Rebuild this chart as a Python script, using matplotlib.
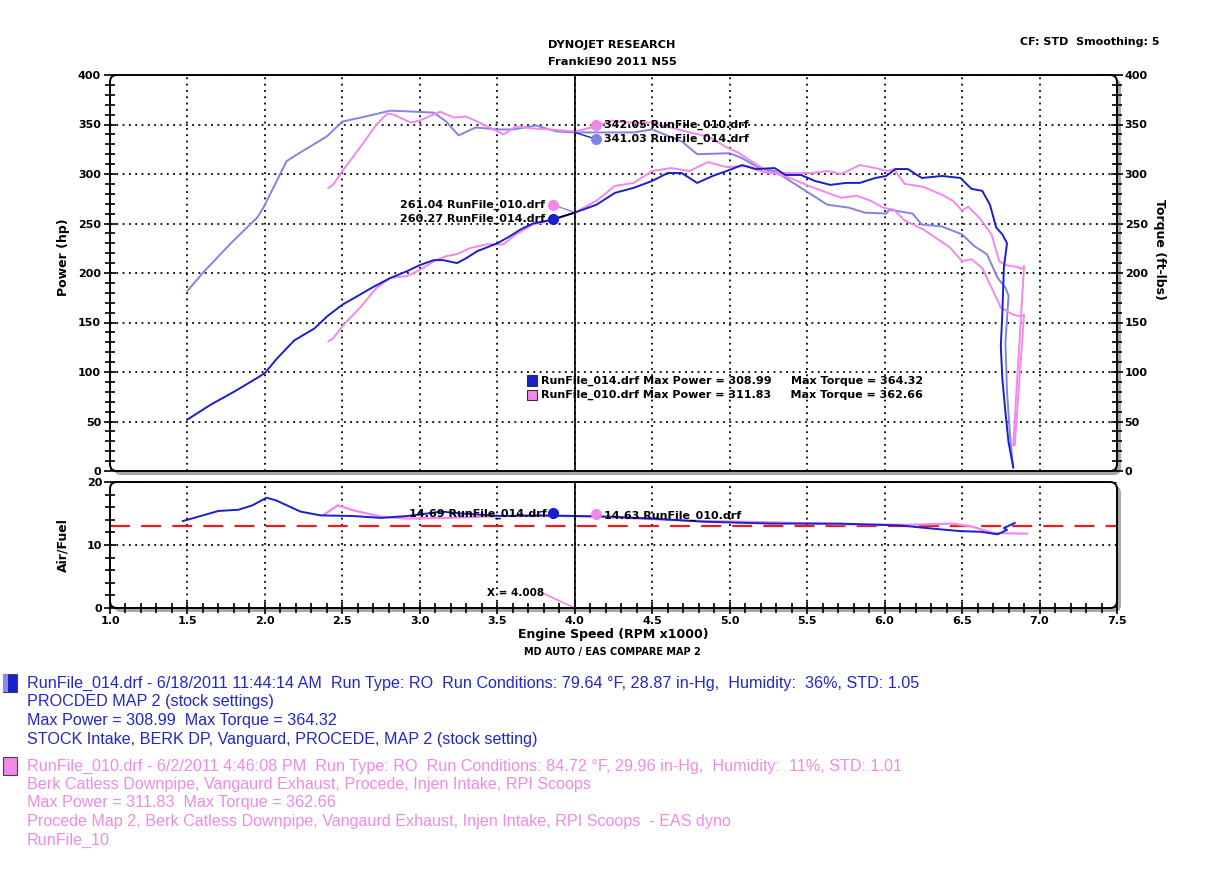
import matplotlib
matplotlib.use("Agg")
import matplotlib.pyplot as plt
from matplotlib.patches import FancyBboxPatch, Rectangle
from matplotlib.transforms import IdentityTransform
from matplotlib.ticker import MultipleLocator, FormatStrFormatter

# ---------------- data ----------------
rpm_hp014 = [1.50,1.65,1.80,1.95,2.00,2.08,2.19,2.32,2.40,2.50,2.59,2.70,2.81,2.92,3.00,3.09,3.15,3.24,3.30,3.37,
             3.50,3.58,3.65,3.73,3.86,4.00,4.14,4.26,4.38,4.50,4.60,4.69,4.79,4.89,4.98,5.08,5.17,5.29,5.36,5.46,
             5.55,5.65,5.75,5.84,5.94,6.01,6.07,6.15,6.24,6.37,6.49,6.56,6.63,6.68,6.72,6.76,6.79,6.77,6.76,6.75,
             6.76,6.78,6.80,6.83]
hp014 = [52,67,80,94,99,114,132,144,156,168,176,186,195,202,208,213,213,210,215,222,
         230,237,244,250,254,261,269,281,286,293,301,301,291,298,303,309,305,306,299,299,
         293,289,291,291,296,298,305,305,296,298,296,285,283,269,246,239,230,206,160,126,
         93,59,29,4]

rpm_tq014 = [1.50,1.61,1.78,1.95,1.99,2.14,2.21,2.40,2.50,2.62,2.81,2.96,3.09,3.17,3.25,3.36,3.50,3.60,3.75,3.88,
             4.00,4.14,4.38,4.50,4.69,4.79,5.00,5.08,5.20,5.29,5.41,5.51,5.63,5.77,5.87,6.01,6.03,6.18,6.24,6.37,
             6.50,6.58,6.66,6.73,6.78,6.80,6.78,6.79,6.81,6.83]
tq014 = [182,202,230,256,266,313,320,338,353,357,364,363,362,353,339,347,345,345,349,343,
         342,342,342,345,333,320,321,316,305,303,291,281,269,266,261,260,264,260,249,247,
         239,227,219,195,185,177,130,80,35,3]

rpm_hp010 = [2.41,2.44,2.51,2.62,2.72,2.81,2.92,3.00,3.09,3.17,3.24,3.32,3.43,3.54,3.62,3.73,3.82,4.00,4.14,4.26,
             4.38,4.50,4.62,4.74,4.86,4.98,5.10,5.24,5.39,5.53,5.63,5.72,5.84,5.94,6.02,6.06,6.13,6.25,6.37,6.44,
             6.50,6.54,6.61,6.69,6.74,6.78,6.86,6.88,6.90,6.83]
hp010 = [131,134,148,166,185,195,197,203,212,217,219,225,229,229,239,249,252,261,273,288,
         291,303,306,303,312,307,308,301,301,301,303,300,309,306,303,305,290,287,279,273,
         263,267,256,239,212,208,206,204,207,26]

rpm_tq010 = [2.41,2.44,2.50,2.62,2.72,2.79,2.83,2.94,3.00,3.13,3.22,3.30,3.41,3.54,3.62,3.73,3.84,4.00,4.14,4.24,
             4.33,4.50,4.62,4.74,4.86,4.98,5.05,5.17,5.24,5.39,5.51,5.63,5.72,5.82,5.91,5.99,6.06,6.13,6.25,6.42,
             6.50,6.56,6.63,6.70,6.75,6.83,6.88,6.90,6.84]
tq010 = [286,289,303,328,350,361,360,352,354,363,357,358,350,340,348,346,345,343,348,354,
         352,352,347,342,338,327,322,310,303,296,288,281,276,278,273,266,264,253,244,226,
         212,214,205,182,165,158,156,158,26]

rpm_afr014 = [1.47,1.70,1.83,1.92,2.01,2.07,2.23,2.36,2.57,2.75,2.92,3.14,3.27,3.53,3.79,4.01,4.23,4.49,4.83,5.27,
              5.70,6.10,6.31,6.49,6.62,6.73,6.79,6.77,6.84]
afr014 = [13.8,15.4,15.6,16.3,17.5,17.1,15.3,14.7,14.6,14.3,14.6,15.3,15.0,14.6,14.7,14.6,14.5,14.2,13.7,13.4,
          13.4,13.1,12.6,12.2,12.1,11.7,12.4,12.7,13.5]

rpm_afr010 = [2.38,2.47,2.57,2.75,2.92,3.18,3.53,3.97,4.14,4.40,4.83,5.27,5.70,6.14,6.44,6.57,6.70,6.92]
afr010 = [14.8,16.3,15.5,14.5,14.2,14.3,14.6,14.6,14.5,14.2,13.8,13.6,13.3,13.2,13.4,12.9,11.9,11.8]

rpm_xcursor = [3.79, 4.00]
afr_xcursor = [2.4, 0.0]

afr_target = 13.0
cursor_rpm = 4.0

# cursor readouts (label, marker rpm, marker value)
hp_read = [("261.04 RunFile_010.drf", 3.86, 269, "pink"), ("260.27 RunFile_014.drf", 3.86, 254.5, "blue")]
tq_read = [("342.05 RunFile_010.drf", 4.14, 349.5, "pink"), ("341.03 RunFile_014.drf", 4.14, 335, "lblue")]
afr_read = [("14.69 RunFile_014.drf", 3.86, 15.1, "blue"), ("14.63 RunFile_010.drf", 4.14, 14.9, "pink")]

legend_lines = ["RunFile_014.drf Max Power = 308.99     Max Torque = 364.32",
                "RunFile_010.drf Max Power = 311.83     Max Torque = 362.66"]

blue_text = ["RunFile_014.drf - 6/18/2011 11:44:14 AM  Run Type: RO  Run Conditions: 79.64 \u00b0F, 28.87 in-Hg,  Humidity:  36%, STD: 1.05",
             "PROCDED MAP 2 (stock settings)",
             "Max Power = 308.99  Max Torque = 364.32",
             "STOCK Intake, BERK DP, Vanguard, PROCEDE, MAP 2 (stock setting)"]
pink_text = ["RunFile_010.drf - 6/2/2011 4:46:08 PM  Run Type: RO  Run Conditions: 84.72 \u00b0F, 29.96 in-Hg,  Humidity:  11%, STD: 1.01",
             "Berk Catless Downpipe, Vangaurd Exhaust, Procede, Injen Intake, RPI Scoops",
             "Max Power = 311.83  Max Torque = 362.66",
             "Procede Map 2, Berk Catless Downpipe, Vangaurd Exhaust, Injen Intake, RPI Scoops  - EAS dyno",
             "RunFile_10"]

# ---------------- styles ----------------
C = {"blue": "#1b1fc9", "lblue": "#8284e0", "pink": "#f288ea"}
TXT_BLUE = "#2226c8"
TXT_PINK = "#f08ae6"
W, H = 1224, 886

fig = plt.figure(figsize=(W / 100, H / 100), dpi=100)
fig.patch.set_facecolor("white")


def fpos(l, t, r, b):
    return [l / W, 1 - b / H, (r - l) / W, (b - t) / H]


def fx(x):
    return x / W


def fy(y):
    return 1 - y / H


ax1 = fig.add_axes(fpos(110, 75, 1117, 471))
ax2 = fig.add_axes(fpos(110, 482, 1117, 608))

for ax in (ax1, ax2):
    for s in ax.spines.values():
        s.set_visible(False)
    ax.set_xlim(1.0, 7.5)
    ax.xaxis.set_major_locator(MultipleLocator(0.5))
    ax.xaxis.set_minor_locator(MultipleLocator(0.1))
    ax.grid(True, which="major", color="black", linestyle=(0, (1, 2.5)), linewidth=1.3)
    ax.set_axisbelow(True)

# frames with shadow
for (l, t, r, b) in [(110, 75, 1117, 471), (110, 482, 1117, 608)]:
    sh = FancyBboxPatch((l + 4, H - b - 4), r - l, b - t, boxstyle="round,pad=0,rounding_size=7",
                        transform=IdentityTransform(), facecolor="#a8a8a8", edgecolor="none", zorder=-1)
    fig.add_artist(sh)
    fr = FancyBboxPatch((l, H - b), r - l, b - t, boxstyle="round,pad=0,rounding_size=7",
                        transform=IdentityTransform(), facecolor="none", edgecolor="black", linewidth=1.4, zorder=3)
    fig.add_artist(fr)

# ---- top panel ----
ax1.set_ylim(0, 400)
ax1.yaxis.set_major_locator(MultipleLocator(50))
ax1.yaxis.set_minor_locator(MultipleLocator(10))
ax1.tick_params(axis="x", which="both", bottom=False, labelbottom=False)
ax1.tick_params(axis="y", which="both", direction="inout", left=True, right=True, labelleft=True,
                width=1.2, color="black")
ax1.tick_params(axis="y", which="major", length=9, labelsize=8, pad=2)
ax1.tick_params(axis="y", which="minor", length=7)
for lab in ax1.get_yticklabels():
    lab.set_fontweight("bold")

ax1t = ax1.twinx()
for s in ax1t.spines.values():
    s.set_visible(False)
ax1t.set_ylim(0, 400)
ax1t.yaxis.set_major_locator(MultipleLocator(50))
ax1t.yaxis.set_minor_locator(MultipleLocator(10))
ax1t.tick_params(axis="y", which="both", direction="inout", width=1.2, right=True)
ax1t.tick_params(axis="y", which="major", length=9, labelsize=8, pad=1)
ax1t.tick_params(axis="y", which="minor", length=7)
for lab in ax1t.get_yticklabels():
    lab.set_fontweight("bold")
ax1t.set_ylabel("Torque (ft-lbs)", rotation=270, fontsize=9, fontweight="bold", va="center")
ax1t.yaxis.set_label_coords(1.042, 0.56)

ax1.set_ylabel("Power (hp)", fontsize=9, fontweight="bold")
ax1.yaxis.set_label_coords(-0.040, 0.54)

ax1.plot(rpm_tq014, tq014, color=C["lblue"], lw=1.4, zorder=4)
ax1.plot(rpm_tq010, tq010, color=C["pink"], lw=1.4, zorder=4)
ax1.plot(rpm_hp010, hp010, color=C["pink"], lw=1.4, zorder=4)
ax1.plot(rpm_hp014, hp014, color=C["blue"], lw=1.4, zorder=5)
ax1.axvline(cursor_rpm, color="black", lw=1.2, zorder=6)

for lab, xr, yv, c in hp_read:
    ax1.plot([xr, cursor_rpm], [yv, 261], color=C["lblue"] if c == "pink" else "black", lw=1.0, zorder=6)
    ax1.plot(xr, yv, "o", color=C[c], ms=7, zorder=7)
    ax1.text(xr - 0.05, yv, lab, ha="right", va="center", fontsize=8, fontweight="bold", zorder=7)
for lab, xr, yv, c in tq_read:
    ax1.plot([cursor_rpm, xr], [342, yv], color=C[c] if c == "pink" else C["blue"], lw=1.0, zorder=6)
    ax1.plot(xr, yv, "o", color=C[c], ms=7, zorder=7)
    ax1.text(xr + 0.05, yv, lab, ha="left", va="center", fontsize=8, fontweight="bold", zorder=7)

# legend box inside the top panel
leg_x_rpm = 1.0 + (527 - 110) / 155.0
for i, (line, c) in enumerate(zip(legend_lines, ["blue", "pink"])):
    yv = 91 - i * 14.2
    ax1.add_patch(Rectangle((leg_x_rpm, yv - 5), 0.068, 10.5, facecolor=C[c], edgecolor="#333333", lw=0.8, zorder=7))
    ax1.text(leg_x_rpm + 0.09, yv, line, ha="left", va="center", fontsize=8, fontweight="bold", zorder=7)

# ---- bottom panel ----
ax2.set_ylim(0, 20)
ax2.yaxis.set_major_locator(MultipleLocator(10))
ax2.yaxis.set_minor_locator(MultipleLocator(2))
ax2.xaxis.set_major_formatter(FormatStrFormatter("%.1f"))
ax2.tick_params(axis="both", which="both", direction="inout", width=1.2)
ax2.tick_params(axis="both", which="major", length=9, labelsize=8, pad=1)
ax2.tick_params(axis="both", which="minor", length=7)
for lab in ax2.get_yticklabels() + ax2.get_xticklabels():
    lab.set_fontweight("bold")
ax2.set_ylabel("Air/Fuel", fontsize=9, fontweight="bold")
ax2.yaxis.set_label_coords(-0.040, 0.5)
ax2.set_xlabel("Engine Speed (RPM x1000)", fontsize=9, fontweight="bold", labelpad=2)

ax2.axhline(afr_target, color="#e02020", lw=1.6, dashes=(9, 5), zorder=3)
ax2.plot(rpm_afr010, afr010, color=C["pink"], lw=1.6, zorder=4)
ax2.plot(rpm_afr014, afr014, color=C["blue"], lw=1.4, zorder=5)
ax2.plot(rpm_xcursor, afr_xcursor, color=C["pink"], lw=1.2, zorder=5)
ax2.axvline(cursor_rpm, color="black", lw=1.2, zorder=6)
ax2.text(3.80, 2.4, "X = 4.008", ha="right", va="center", fontsize=7.5, fontweight="bold", zorder=7)
for lab, xr, yv, c in afr_read:
    ax2.plot(xr, yv, "o", color=C[c], ms=7, zorder=7)
    if xr < cursor_rpm:
        ax2.text(xr - 0.04, yv - 0.2, lab, ha="right", va="center", fontsize=8, fontweight="bold", zorder=7)
    else:
        ax2.text(xr + 0.05, yv - 0.3, lab, ha="left", va="center", fontsize=8, fontweight="bold", zorder=7)

# ---- header / footer text ----
fig.text(fx(612), fy(45), "DYNOJET RESEARCH", ha="center", va="center", fontsize=8.2, fontweight="bold")
fig.text(fx(612), fy(62), "FrankiE90 2011 N55", ha="center", va="center", fontsize=8.2, fontweight="bold")
fig.text(fx(1160), fy(42), "CF: STD  Smoothing: 5", ha="right", va="center", fontsize=8, fontweight="bold")
fig.text(fx(612), fy(652), "MD AUTO / EAS COMPARE MAP 2", ha="center", va="center", fontsize=7, fontweight="bold")

# run descriptions
fig.add_artist(Rectangle((3, H - 692), 14, 18, transform=IdentityTransform(), facecolor=C["blue"],
                         edgecolor="#444444", lw=0.8))
fig.add_artist(Rectangle((3, H - 692), 5, 18, transform=IdentityTransform(), facecolor="#8a8ce6",
                         edgecolor="none"))
fig.add_artist(Rectangle((3, H - 775), 14, 18, transform=IdentityTransform(), facecolor=C["pink"],
                         edgecolor="#444444", lw=0.8))
for i, line in enumerate(blue_text):
    fig.text(fx(27), fy(683 + i * 18.7), line, ha="left", va="center", fontsize=11.6,
             family="Liberation Sans", color=TXT_BLUE)
for i, line in enumerate(pink_text):
    fig.text(fx(27), fy(766 + i * 18.5), line, ha="left", va="center", fontsize=11.6,
             family="Liberation Sans", color=TXT_PINK)

fig.savefig("out.png", dpi=100, facecolor="white")
